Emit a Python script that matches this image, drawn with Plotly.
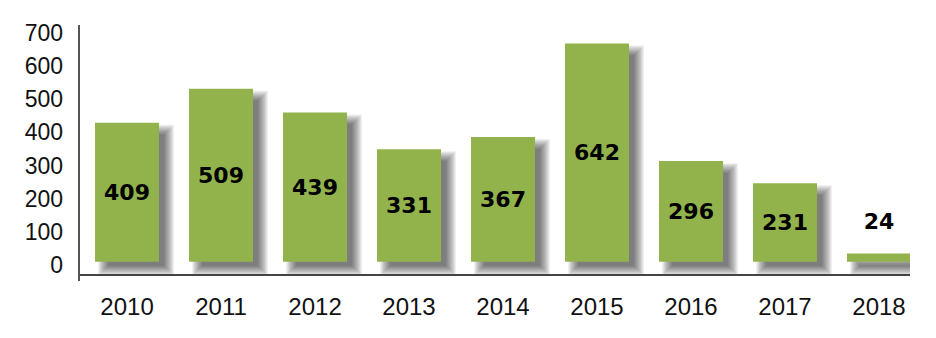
import plotly.graph_objects as go

years = ["2010", "2011", "2012", "2013", "2014", "2015", "2016", "2017", "2018"]
values = [409, 509, 439, 331, 367, 642, 296, 231, 24]
y_ticks = [0, 100, 200, 300, 400, 500, 600, 700]

BAR_COLOR = "#92B24C"
PX_PER_CAT = 94.0
PX_PER_UNIT = 0.34
BAR_W = 64 / PX_PER_CAT

inside_labels = [str(v) if v >= 100 else "" for v in values]
small = [(y, v) for y, v in zip(years, values) if v < 100]

fig = go.Figure()

# drop shadow layers (blurred look)
sh_dx = 9 / PX_PER_CAT
sh_dy = 8 / PX_PER_UNIT
for j in range(10):
    e = -4 + j * 1.1
    ex = e / PX_PER_CAT
    ey = e / PX_PER_UNIT
    fig.add_trace(go.Bar(
        x=years,
        y=[v + 2 * ey for v in values],
        base=-sh_dy - ey,
        width=BAR_W + 2 * ex,
        offset=-BAR_W / 2 + sh_dx - ex,
        marker=dict(color="rgba(0,0,0,0.065)", line=dict(width=0)),
        hoverinfo="skip", showlegend=False,
    ))

fig.add_trace(go.Bar(
    x=years, y=values, width=BAR_W, offset=-BAR_W / 2,
    marker=dict(color=BAR_COLOR, line=dict(width=0)),
    text=inside_labels, textposition="inside", insidetextanchor="middle",
    textangle=0,
    textfont=dict(family="DejaVu Sans", size=22, color="black", weight="bold"),
    showlegend=False,
))

fig.add_trace(go.Scatter(
    x=[s[0] for s in small], y=[s[1] + 87 for s in small],
    text=[str(s[1]) for s in small], mode="text", textposition="middle center",
    textfont=dict(family="DejaVu Sans", size=22, color="black", weight="bold"),
    showlegend=False, hoverinfo="skip",
))

# invisible trace to hold label axis
fig.add_trace(go.Scatter(x=[years[0]], y=[0], yaxis="y2", mode="markers",
                         marker=dict(opacity=0), showlegend=False, hoverinfo="skip"))

plot_h = 338 - 25 - 64
zero_off = 274 - 261.7
ymin = -zero_off / PX_PER_UNIT
ymax = (plot_h - zero_off) / PX_PER_UNIT

lab_scale = (265 - 33) / 700.0
l_min = -(274 - 265) / lab_scale
l_max = 700 + (33 - 25) / lab_scale

fig.update_layout(
    width=936, height=338,
    margin=dict(l=79, r=26, t=25, b=64),
    paper_bgcolor="white", plot_bgcolor="white",
    barmode="overlay",
    font=dict(family="Liberation Sans, Arial, sans-serif", size=23, color="#111"),
    xaxis=dict(
        type="category", range=[-0.511, 8.33],
        showline=True, linecolor="#444", linewidth=1.5,
        showgrid=False, zeroline=False, ticks="",
        ticklabelstandoff=10,
        tickfont=dict(size=24),
    ),
    yaxis=dict(
        range=[ymin, ymax], showgrid=False, zeroline=False,
        showline=False, showticklabels=False, ticks="",
    ),
    yaxis2=dict(
        overlaying="y", side="left", anchor="x",
        range=[l_min, l_max], tickvals=y_ticks,
        ticktext=[str(t) for t in y_ticks],
        showgrid=False, zeroline=False, showline=False, ticks="",
        ticklabelstandoff=15, tickfont=dict(size=23),
    ),
    shapes=[dict(type="line", xref="paper", yref="paper",
                 x0=0, x1=0, y0=-7 / plot_h, y1=1,
                 line=dict(color="#555", width=2))],
)

fig.write_html("out.html")
